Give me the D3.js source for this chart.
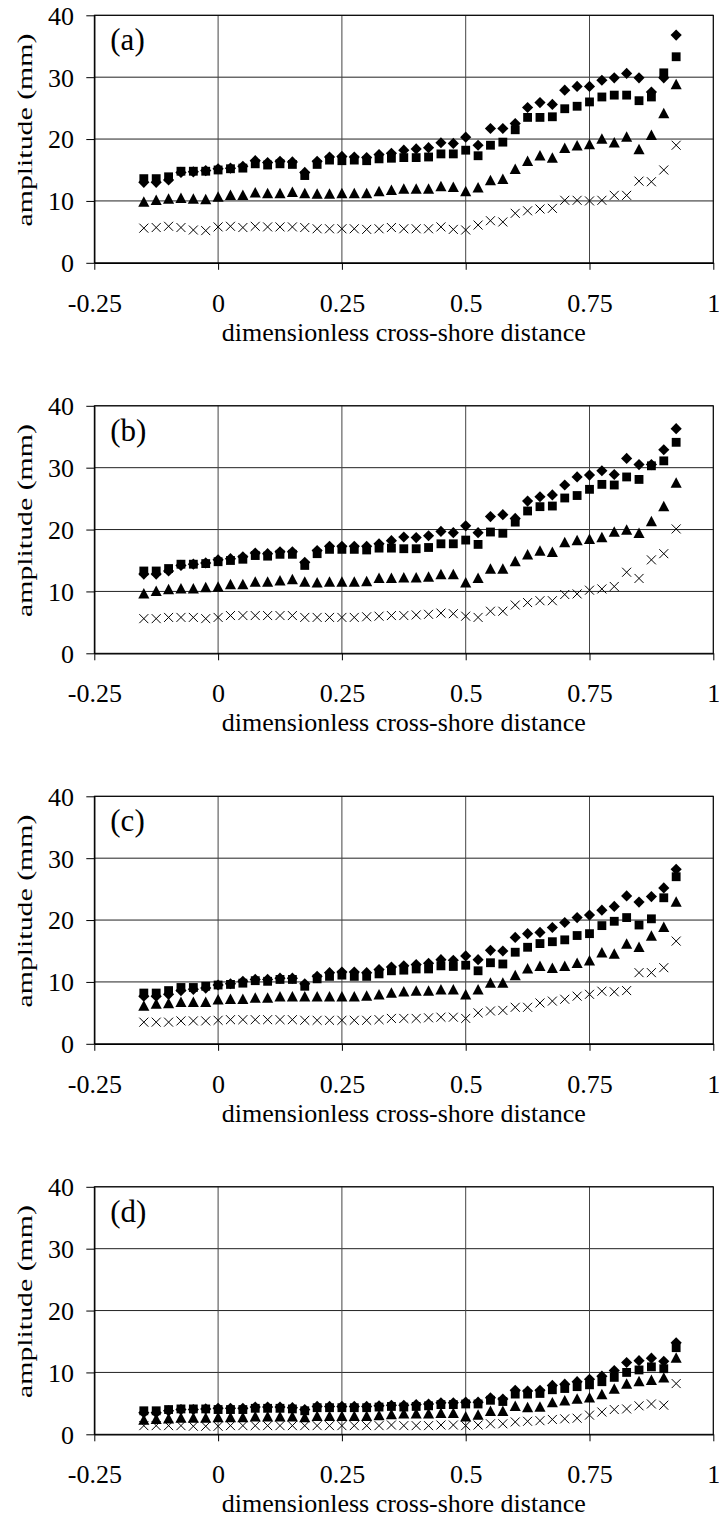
<!DOCTYPE html>
<html>
<head>
<meta charset="utf-8">
<script src="https://cdn.jsdelivr.net/npm/d3@7"></script>
<style>
  html, body { margin: 0; padding: 0; background: #fff; }
  svg { display: block; }
  text { font-family: "Liberation Serif", "Times New Roman", serif; fill: #000; }
</style>
</head>
<body>
<svg id="chart" width="719" height="1519"></svg>
<script>
// Dimensionless cross-shore position of each gauge
const distance = [-0.15, -0.125, -0.1, -0.075, -0.05, -0.025, 0, 0.025, 0.05, 0.075,
  0.1, 0.125, 0.15, 0.175, 0.2, 0.225, 0.25, 0.275, 0.3, 0.325,
  0.35, 0.375, 0.4, 0.425, 0.45, 0.475, 0.5, 0.525, 0.55, 0.575,
  0.6, 0.625, 0.65, 0.675, 0.7, 0.725, 0.75, 0.775, 0.8, 0.825,
  0.85, 0.875, 0.9, 0.925];

// Panel (a) amplitudes, mm
const aDiamond = [13.0, 13.0, 13.4, 14.6, 14.7, 14.9, 15.2, 15.3, 15.6, 16.5, 16.2, 16.4, 16.3, 14.6, 16.4, 17.1, 17.2, 17.1, 17.0, 17.5, 17.7, 18.2, 18.4, 18.6, 19.4, 19.3, 20.3, 19.0, 21.7, 21.7, 22.5, 25.1, 25.9, 25.6, 27.9, 28.5, 28.5, 29.5, 29.9, 30.6, 29.9, 27.6, 29.9, 36.8];
const aSquare = [13.6, 13.6, 13.9, 14.8, 14.8, 14.8, 15.0, 15.2, 15.3, 16.0, 15.8, 16.0, 15.9, 14.1, 15.9, 16.6, 16.5, 16.6, 16.5, 16.8, 16.9, 17.0, 17.0, 17.1, 17.6, 17.6, 18.2, 17.3, 19.0, 19.5, 21.5, 23.5, 23.5, 23.6, 24.9, 25.3, 26.0, 26.8, 27.1, 27.1, 26.2, 26.8, 30.7, 33.3];
const aTriangle = [9.9, 10.2, 10.4, 10.5, 10.4, 10.3, 10.7, 11.0, 11.0, 11.4, 11.3, 11.3, 11.5, 11.3, 11.2, 11.2, 11.3, 11.3, 11.3, 11.6, 11.8, 12.0, 12.0, 12.0, 12.4, 12.3, 11.6, 12.2, 13.4, 13.6, 15.2, 16.5, 17.4, 17.0, 18.6, 19.0, 19.2, 20.1, 19.5, 20.4, 18.4, 20.7, 24.2, 28.9];
const aCross = [5.6, 5.7, 5.9, 5.7, 5.3, 5.2, 5.8, 5.9, 5.7, 5.9, 5.8, 5.8, 5.8, 5.7, 5.5, 5.5, 5.5, 5.5, 5.4, 5.5, 5.7, 5.5, 5.5, 5.5, 5.8, 5.4, 5.3, 6.1, 6.8, 6.6, 8.0, 8.4, 8.7, 8.8, 10.1, 10.1, 10.0, 10.1, 10.9, 10.9, 13.2, 13.1, 15.0, 19.0];

// Panel (b)
const bDiamond = [12.8, 12.8, 13.3, 14.2, 14.4, 14.6, 15.1, 15.3, 15.6, 16.2, 16.1, 16.4, 16.4, 14.7, 16.6, 17.3, 17.3, 17.3, 17.3, 17.7, 18.2, 18.8, 18.7, 19.0, 19.7, 19.5, 20.6, 19.5, 22.1, 22.4, 21.8, 24.6, 25.3, 25.6, 27.2, 28.5, 28.8, 29.5, 28.9, 31.5, 30.5, 30.5, 32.9, 36.3];
const bSquare = [13.3, 13.3, 13.7, 14.4, 14.4, 14.5, 14.8, 15.0, 15.2, 15.8, 15.7, 16.0, 16.0, 14.2, 16.1, 16.8, 16.8, 16.8, 16.7, 17.0, 17.0, 16.9, 16.9, 17.1, 17.7, 17.7, 18.3, 17.6, 19.6, 19.4, 21.2, 23.0, 23.7, 23.8, 25.1, 25.5, 26.5, 27.3, 27.2, 28.5, 28.1, 30.3, 31.1, 34.1];
const bTriangle = [9.7, 10.1, 10.4, 10.5, 10.5, 10.7, 10.8, 11.2, 11.2, 11.6, 11.6, 11.8, 12.0, 11.6, 11.5, 11.6, 11.6, 11.6, 11.7, 12.2, 12.2, 12.3, 12.3, 12.4, 12.8, 12.8, 11.5, 12.2, 13.7, 13.7, 14.9, 16.0, 16.6, 16.4, 18.0, 18.3, 18.5, 18.8, 19.7, 20.0, 19.5, 21.4, 23.8, 27.6];
const bCross = [5.6, 5.6, 5.8, 5.8, 5.8, 5.6, 5.8, 6.1, 6.1, 6.1, 6.1, 6.1, 6.1, 5.8, 5.8, 5.8, 5.8, 5.8, 5.9, 6.0, 6.1, 6.1, 6.2, 6.3, 6.5, 6.4, 6.0, 5.8, 6.8, 6.8, 7.8, 8.2, 8.5, 8.5, 9.5, 9.6, 10.2, 10.4, 10.8, 13.1, 12.1, 15.1, 16.1, 20.1];

// Panel (c)
const cDiamond = [7.7, 7.7, 8.0, 8.6, 8.8, 9.0, 9.5, 9.7, 10.1, 10.4, 10.4, 10.6, 10.6, 9.7, 10.9, 11.5, 11.6, 11.6, 11.5, 12.0, 12.4, 12.6, 12.8, 13.0, 13.6, 13.5, 14.2, 13.6, 15.1, 15.0, 17.2, 17.8, 18.0, 18.8, 19.6, 20.4, 20.8, 21.6, 22.2, 23.9, 22.9, 23.8, 25.2, 28.2];
const cSquare = [8.2, 8.2, 8.6, 9.1, 9.1, 9.3, 9.5, 9.6, 9.8, 10.2, 10.1, 10.4, 10.4, 9.3, 10.5, 10.9, 11.1, 10.9, 10.9, 11.3, 11.8, 11.9, 12.1, 12.1, 12.6, 12.5, 12.7, 11.8, 13.1, 12.9, 14.8, 15.6, 16.2, 16.5, 16.8, 17.5, 17.8, 19.1, 19.8, 20.4, 19.2, 20.2, 23.6, 27.0];
const cTriangle = [6.2, 6.5, 6.6, 6.8, 6.8, 6.8, 7.2, 7.3, 7.3, 7.5, 7.5, 7.7, 7.7, 7.7, 7.7, 7.7, 7.7, 7.7, 7.8, 8.0, 8.3, 8.5, 8.6, 8.6, 8.8, 8.8, 8.0, 8.8, 9.9, 9.9, 11.1, 12.2, 12.6, 12.3, 12.6, 13.1, 13.5, 14.8, 14.6, 16.2, 15.7, 17.5, 18.9, 23.0];
const cCross = [3.5, 3.5, 3.5, 3.7, 3.7, 3.7, 3.8, 3.9, 3.9, 3.9, 3.9, 3.9, 3.9, 3.8, 3.8, 3.8, 3.8, 3.8, 3.8, 3.9, 4.1, 4.1, 4.1, 4.2, 4.3, 4.3, 4.1, 5.0, 5.3, 5.4, 5.9, 5.9, 6.6, 6.9, 7.2, 7.7, 8.0, 8.5, 8.4, 8.6, 11.5, 11.5, 12.3, 16.6];

// Panel (d)
const dDiamond = [3.5, 3.5, 3.8, 4.0, 4.0, 4.1, 4.2, 4.2, 4.2, 4.4, 4.4, 4.4, 4.3, 4.0, 4.5, 4.5, 4.5, 4.5, 4.5, 4.6, 4.7, 4.7, 4.8, 4.9, 5.1, 5.1, 5.2, 5.2, 5.9, 5.7, 7.1, 7.0, 7.1, 7.9, 8.1, 8.5, 8.9, 9.4, 10.3, 11.6, 11.9, 12.3, 11.8, 14.8];
const dSquare = [3.8, 3.8, 4.0, 4.1, 4.1, 4.1, 4.0, 4.0, 4.0, 4.2, 4.2, 4.2, 4.1, 3.8, 4.3, 4.3, 4.3, 4.3, 4.3, 4.4, 4.5, 4.4, 4.5, 4.6, 4.8, 4.8, 4.9, 4.9, 5.5, 5.3, 6.5, 6.5, 6.6, 7.2, 7.4, 7.7, 8.0, 8.5, 9.2, 10.0, 10.4, 10.9, 10.6, 14.0];
const dTriangle = [2.4, 2.5, 2.6, 2.7, 2.7, 2.7, 2.8, 2.8, 2.8, 2.9, 2.9, 2.9, 2.9, 2.8, 3.0, 3.0, 3.0, 3.0, 3.0, 3.1, 3.3, 3.4, 3.4, 3.4, 3.5, 3.5, 2.9, 3.2, 3.8, 3.8, 4.6, 4.4, 4.5, 5.2, 5.5, 5.8, 6.0, 6.5, 7.4, 8.2, 8.6, 8.8, 9.2, 12.4];
const dCross = [1.4, 1.4, 1.4, 1.4, 1.3, 1.3, 1.3, 1.4, 1.4, 1.4, 1.4, 1.4, 1.4, 1.4, 1.4, 1.4, 1.4, 1.4, 1.4, 1.4, 1.5, 1.4, 1.4, 1.4, 1.5, 1.5, 1.4, 1.5, 1.7, 1.7, 2.0, 2.1, 2.2, 2.4, 2.5, 2.6, 3.1, 3.6, 4.0, 4.1, 4.6, 4.9, 4.7, 8.2];

const panelLabels = ["(a)", "(b)", "(c)", "(d)"];
const xTicks = [-0.25, 0, 0.25, 0.5, 0.75, 1];
const xTickLabels = ["-0.25", "0", "0.25", "0.5", "0.75", "1"];
const yTicks = [0, 10, 20, 30, 40];
const xTitle = "dimensionless cross-shore distance";
const yTitle = "amplitude (mm)";

const panels = [
  { label: panelLabels[0], diamond: aDiamond, square: aSquare, triangle: aTriangle, cross: aCross },
  { label: panelLabels[1], diamond: bDiamond, square: bSquare, triangle: bTriangle, cross: bCross },
  { label: panelLabels[2], diamond: cDiamond, square: cSquare, triangle: cTriangle, cross: cCross },
  { label: panelLabels[3], diamond: dDiamond, square: dSquare, triangle: dTriangle, cross: dCross }
];

// Layout
const left = 94.3, plotW = 619, plotH = 247.5, firstTop = 15.3, panelStep = 390.5;
const fontSize = 26;

const x = d3.scaleLinear().domain([-0.25, 1]).range([0, plotW]);
const y = d3.scaleLinear().domain([0, 40]).range([plotH, 0]);

// Marker shapes
const diamondShape = { draw(ctx, size) { const r = Math.sqrt(size) / 2;
  ctx.moveTo(0, -r); ctx.lineTo(r, 0); ctx.lineTo(0, r); ctx.lineTo(-r, 0); ctx.closePath(); } };
const squareShape = { draw(ctx, size) { const r = Math.sqrt(size) / 2;
  ctx.rect(-r, -r, 2 * r, 2 * r); } };
const triangleShape = { draw(ctx, size) { const h = Math.sqrt(size), w = h * 1.06;
  ctx.moveTo(0, -h / 2); ctx.lineTo(w / 2, h / 2); ctx.lineTo(-w / 2, h / 2); ctx.closePath(); } };
const crossShape = { draw(ctx, size) { const r = Math.sqrt(size) / 2;
  ctx.moveTo(-r, -r); ctx.lineTo(r, r); ctx.moveTo(r, -r); ctx.lineTo(-r, r); } };

const seriesStyle = [
  { key: "cross", shape: crossShape, size: 81, fill: "none", stroke: "#000" },
  { key: "triangle", shape: triangleShape, size: 110, fill: "#000", stroke: "none" },
  { key: "square", shape: squareShape, size: 78, fill: "#000", stroke: "none" },
  { key: "diamond", shape: diamondShape, size: 125, fill: "#000", stroke: "none" }
];

const svg = d3.select("#chart");

panels.forEach((p, k) => {
  const top = firstTop + k * panelStep;
  const g = svg.append("g").attr("transform", `translate(${left},${top})`);

  // grid
  g.append("g").selectAll("line").data(yTicks.slice(1)).join("line")
    .attr("x1", 0).attr("x2", plotW)
    .attr("y1", d => y(d)).attr("y2", d => y(d))
    .attr("stroke", "#222").attr("stroke-width", 1);
  g.append("g").selectAll("line").data(xTicks.slice(1)).join("line")
    .attr("x1", d => x(d)).attr("x2", d => x(d))
    .attr("y1", 0).attr("y2", plotH)
    .attr("stroke", "#444").attr("stroke-width", 1);

  // axes
  const xAxis = g.append("g").attr("transform", `translate(0,${plotH})`)
    .call(d3.axisBottom(x).tickValues(xTicks).tickFormat((d, i) => xTickLabels[i])
      .tickSize(7).tickSizeOuter(0));
  xAxis.selectAll("text").attr("y", 49).attr("dy", 0)
    .style("font-size", fontSize + "px").style("font-family", "Liberation Serif, serif");
  const yAxis = g.append("g")
    .call(d3.axisLeft(y).tickValues(yTicks).tickFormat(d3.format("d"))
      .tickSize(8).tickSizeOuter(0));
  yAxis.selectAll("text").attr("x", -20.3).attr("dy", "0.34em")
    .style("font-size", fontSize + "px").style("font-family", "Liberation Serif, serif");
  g.selectAll(".domain").attr("stroke", "#000").attr("stroke-width", 1.3);
  g.selectAll(".tick line").attr("stroke", "#000");

  // frame top/right
  g.append("rect").attr("x", 0).attr("y", 0).attr("width", plotW).attr("height", plotH)
    .attr("fill", "none").attr("stroke", "#000").attr("stroke-width", 1);

  // series markers
  seriesStyle.forEach(s => {
    const sym = d3.symbol().type(s.shape).size(s.size);
    g.append("g").selectAll("path").data(p[s.key]).join("path")
      .attr("transform", (v, i) => `translate(${x(distance[i])},${y(v)})`)
      .attr("d", sym)
      .attr("fill", s.fill).attr("stroke", s.stroke).attr("stroke-width", 1);
  });

  // panel label
  g.append("text").attr("x", 16).attr("y", 35)
    .style("font-size", "31px").text(p.label);

  // axis titles
  g.append("text").attr("x", plotW / 2).attr("y", plotH + 78)
    .attr("text-anchor", "middle").style("font-size", fontSize + "px").text(xTitle);
  svg.append("text")
    .attr("transform", `translate(31.5,${top + plotH / 2 - 9}) rotate(-90)`)
    .attr("text-anchor", "middle").style("font-size", "21px")
    .attr("textLength", 193).attr("lengthAdjust", "spacingAndGlyphs")
    .text(yTitle);
});
</script>
</body>
</html>
